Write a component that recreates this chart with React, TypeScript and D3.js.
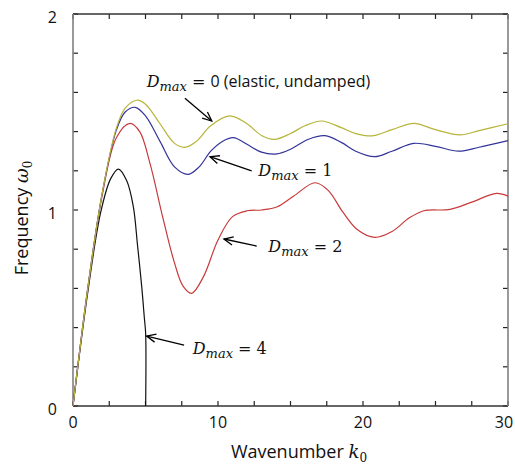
import React from "react";
import * as d3 from "d3";

// k0, omega0 pairs
const undamped: [number, number][] = [
  [0, 0], [1, 0.59], [2, 1.08], [3, 1.42], [3.6, 1.52], [4.4, 1.56], [5, 1.54], [6, 1.44],
  [7, 1.34], [7.7, 1.32], [8.5, 1.35], [9.5, 1.43], [10.8, 1.48], [12, 1.44], [13, 1.38],
  [13.9, 1.36], [15, 1.39], [16, 1.43], [17.15, 1.454], [18.5, 1.42], [19.5, 1.39], [20.6, 1.378],
  [22, 1.41], [23.5, 1.442], [25, 1.41], [26.7, 1.383], [28, 1.405], [30, 1.44],
];
const dmax1: [number, number][] = [
  [0, 0], [1, 0.59], [2, 1.08], [3, 1.41], [3.6, 1.5], [4.3, 1.524], [5, 1.48], [6, 1.35],
  [7, 1.22], [7.95, 1.182], [8.7, 1.22], [9.5, 1.3], [10.3, 1.35], [11.06, 1.369], [12, 1.335],
  [13, 1.295], [14.05, 1.286], [15, 1.31], [16.2, 1.36], [17.38, 1.379], [18.5, 1.345], [19.5, 1.3],
  [20.8, 1.272], [22, 1.3], [23.5, 1.34], [25, 1.325], [26.6, 1.3], [28, 1.32], [30, 1.354],
];
const dmax2: [number, number][] = [
  [0, 0], [1, 0.59], [2, 1.07], [3, 1.37], [3.93, 1.442], [4.6, 1.4], [5.3, 1.24], [6.2, 0.96],
  [7, 0.73], [7.6, 0.61], [8.18, 0.575], [9, 0.66], [10, 0.847], [11, 0.966], [12, 0.996],
  [13, 1.0], [14.05, 1.015], [15.2, 1.07], [16.69, 1.139], [17.6, 1.1], [18.6, 0.99], [19.6, 0.9],
  [20.8, 0.86], [22, 0.89], [23.2, 0.96], [24.2, 0.996], [26, 1.003], [27.5, 1.04], [29.2, 1.085],
  [30, 1.071],
];
const dmax4: [number, number][] = [
  [0, 0], [1, 0.57], [1.9, 0.985], [2.6, 1.16], [3.13, 1.209], [3.7, 1.15], [4.16, 1.017],
  [4.45, 0.82], [4.74, 0.609], [4.92, 0.45], [5.01, 0.37], [5.01, 0],
];

const xLabels = [0, 10, 20, 30];
const yLabels = [0, 1, 2];

// Dmax value, extra words, arrow tip [k, w], arrow tail [k, w], text start [k, w]
const notes = [
  { d: "0", extra: " (elastic, undamped)", tip: [9.57, 1.454], from: [7.72, 1.57], at: [5.08, 1.628] },
  { d: "1", extra: "", tip: [9.45, 1.272], from: [12.32, 1.2], at: [12.78, 1.173] },
  { d: "2", extra: "", tip: [10.41, 0.852], from: [12.67, 0.816], at: [13.47, 0.786] },
  { d: "4", extra: "", tip: [5.08, 0.357], from: [7.66, 0.311], at: [8.26, 0.265] },
];

const W = 515;
const H = 468;
const m = { left: 73, right: 7, top: 14, bottom: 62 };

export default function App() {
  const x = d3.scaleLinear().domain([0, 30]).range([m.left, W - m.right]);
  const y = d3.scaleLinear().domain([0, 2]).range([H - m.bottom, m.top]);
  const line = d3
    .line<[number, number]>()
    .x((d) => x(d[0]))
    .y((d) => y(d[1]))
    .curve(d3.curveCatmullRom.alpha(0.5));

  const xt = d3.range(0, 30.01, 2.5);
  const yt = d3.range(0, 2.001, 0.2);
  const x0 = x(0), x1 = x(30), y0 = y(0), y1 = y(2);
  const sans = "'Open Sans', sans-serif";
  const mathFont = "'DejaVu Serif', 'Liberation Serif', serif";

  const arrow = (tip: number[], from: number[], i: number) => {
    const tx = x(tip[0]), ty = y(tip[1]);
    const fx = x(from[0]), fy = y(from[1]);
    const a = Math.atan2(fy - ty, fx - tx);
    const L = 10, s = 0.42;
    return (
      <g key={"a" + i} stroke="#000" strokeWidth={1.3} fill="none">
        <line x1={fx} y1={fy} x2={tx} y2={ty} />
        <polyline
          points={`${tx + L * Math.cos(a + s)},${ty + L * Math.sin(a + s)} ${tx},${ty} ${tx + L * Math.cos(a - s)},${ty + L * Math.sin(a - s)}`}
        />
      </g>
    );
  };

  return (
    <div style={{ position: "absolute", left: 0, top: 0 }}>
      <svg width={W} height={H} style={{ display: "block", background: "#fff" }}>
        {/* ticks */}
        <g stroke="#222" strokeWidth={1.2}>
          {xt.map((t) => (
            <g key={"x" + t}>
              <line x1={x(t)} x2={x(t)} y1={y0} y2={y0 - 5} />
              <line x1={x(t)} x2={x(t)} y1={y1} y2={y1 + 5} />
            </g>
          ))}
          {yt.map((t) => (
            <g key={"y" + t}>
              <line x1={x0} x2={x0 + 5} y1={y(t)} y2={y(t)} />
              <line x1={x1} x2={x1 - 5} y1={y(t)} y2={y(t)} />
            </g>
          ))}
        </g>
        {/* frame */}
        <line x1={x0} x2={x1} y1={y1} y2={y1} stroke="#333" strokeWidth={1.4} />
        <line x1={x0} x2={x1} y1={y0} y2={y0} stroke="#333" strokeWidth={1.4} />
        <line x1={x0} x2={x0} y1={y1} y2={y0} stroke="#808080" strokeWidth={1.6} />
        <line x1={x1} x2={x1} y1={y1} y2={y0} stroke="#808080" strokeWidth={1.6} />

        {/* curves */}
        <path d={line(dmax4) ?? ""} fill="none" stroke="#111" strokeWidth={1.2} />
        <path d={line(dmax2) ?? ""} fill="none" stroke="#c83a3a" strokeWidth={1.2} />
        <path d={line(dmax1) ?? ""} fill="none" stroke="#33339a" strokeWidth={1.2} />
        <path d={line(undamped) ?? ""} fill="none" stroke="#b8b43a" strokeWidth={1.2} />

        {/* tick labels */}
        <g fontFamily={sans} fontSize={16} fill="#111">
          {xLabels.map((t) => (
            <text key={"xl" + t} x={Math.min(x(t), W - 11)} y={y0 + 21.5} textAnchor="middle">{t}</text>
          ))}
          {yLabels.map((t) => (
            <text key={"yl" + t} x={57} y={y(t) + 9} textAnchor="end">{t}</text>
          ))}
        </g>

        {/* axis titles */}
        <text x={299} y={458} textAnchor="middle" fontFamily={sans} fontSize={18} fill="#111">
          Wavenumber{" "}
          <tspan fontFamily={mathFont} fontStyle="italic">k</tspan>
          <tspan fontFamily={mathFont} fontSize={12} dy={4}>0</tspan>
        </text>
        <text
          transform={`translate(28,218) rotate(-90)`}
          textAnchor="middle"
          fontFamily={sans}
          fontSize={18}
          fill="#111"
        >
          Frequency{" "}
          <tspan fontFamily={mathFont} fontStyle="italic">ω</tspan>
          <tspan fontFamily={mathFont} fontSize={12} dy={4}>0</tspan>
        </text>

        {/* annotations */}
        {notes.map((n, i) => arrow(n.tip, n.from, i))}
        {notes.map((n, i) => (
          <text key={"n" + i} x={x(n.at[0])} y={y(n.at[1])} fontSize={16} fill="#111">
            <tspan fontFamily={mathFont} fontStyle="italic">D</tspan>
            <tspan fontFamily={mathFont} fontStyle="italic" fontSize={13} dy={4}>max</tspan>
            <tspan fontFamily={mathFont} dy={-4}>{" = "}</tspan>
            {n.extra ? (
              <tspan fontFamily={sans}>{n.d + n.extra}</tspan>
            ) : (
              <tspan fontFamily={mathFont}>{n.d}</tspan>
            )}
          </text>
        ))}
      </svg>
    </div>
  );
}
